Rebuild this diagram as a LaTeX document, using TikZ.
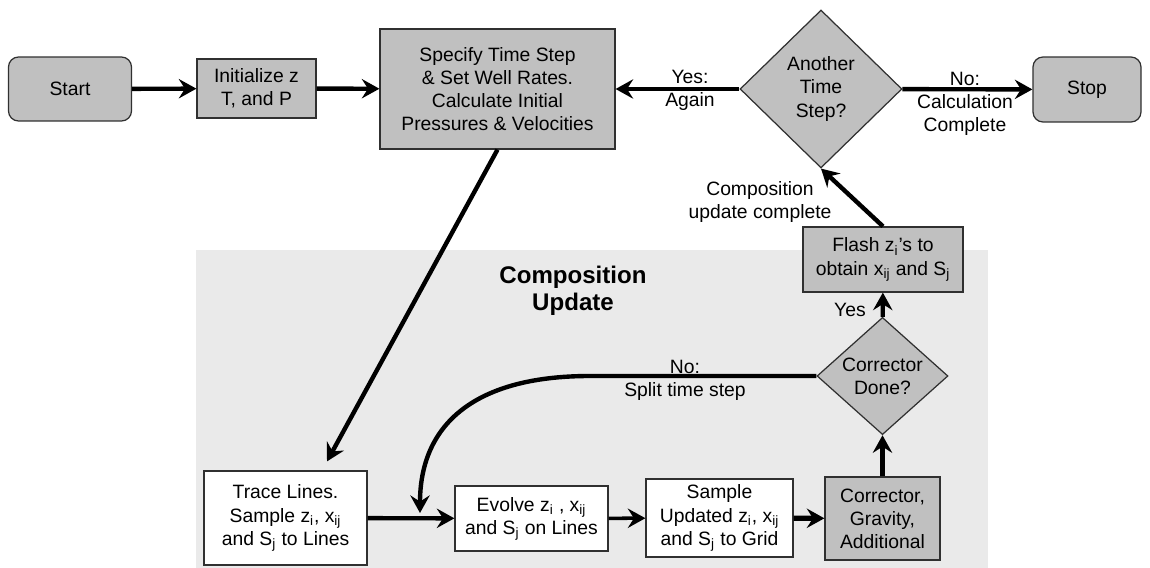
\documentclass[tikz,border=0pt]{standalone}
\usepackage{fontspec}
\setmainfont{Liberation Sans}
\usetikzlibrary{arrows.meta,shapes.geometric,calc}
\definecolor{CFBox}{HTML}{C0C0C0}
\definecolor{CFZone}{HTML}{EAEAEA}
\definecolor{CFEdge}{HTML}{303030}
\newcommand{\tsub}[1]{\textsubscript{#1}}
\tikzset{
  procbox/.style={draw=CFEdge,line width=0.7pt,fill=CFBox,align=center,inner sep=2pt},
  whitebox/.style={procbox,fill=white},
  termbox/.style={procbox,rounded corners=0.2cm},
  decbox/.style={procbox,diamond,inner sep=0pt},
  flow/.style={line width=2.5pt,-{Stealth[length=10pt,width=11pt,inset=3.5pt]}},
  flowlabel/.style={align=center,inner sep=0pt}
}

\begin{document}
\begin{tikzpicture}[x=0.02cm,y=0.02cm,font=\fontsize{11}{13.1}\selectfont]
\path[use as bounding box] (0,0) rectangle (1150,568);
% composition update zone
\fill[CFZone] (196,0) rectangle (988,318);
\node[flowlabel,font=\fontsize{13.7}{15.6}\selectfont\bfseries] (zonetitle) at (573,277) {Composition\\Update};

% top row
\node[termbox,minimum width=2.46cm,minimum height=1.28cm] (start) at (70,479) {Start};
\node[procbox,minimum width=2.38cm,minimum height=1.18cm] (init) at (256.5,479.5) {Initialize z\\T, and P};
\node[procbox,minimum width=4.70cm,minimum height=2.40cm] (spec) at (497.5,479) {Specify Time Step\\\& Set Well Rates.\\Calculate Initial\\Pressures \& Velocities};
\node[decbox,minimum width=3.24cm,minimum height=3.16cm] (another) at (821,479) {Another\\Time\\Step?};
\node[termbox,minimum width=2.16cm,minimum height=1.30cm] (stop) at (1087,478.5) {Stop};

% right column
\node[procbox,minimum width=3.20cm,minimum height=1.30cm] (flash) at (883,308.5) {Flash z\tsub{i}’s to\\obtain x\tsub{ij} and S\tsub{j}};
\node[decbox,minimum width=2.62cm,minimum height=2.32cm] (corrdone) at (882.5,192) {Corrector\\Done?};

% bottom row
\node[whitebox,minimum width=3.26cm,minimum height=1.88cm] (trace) at (285.5,50) {Trace Lines.\\Sample z\tsub{i}, x\tsub{ij}\\and S\tsub{j} to Lines};
\node[whitebox,minimum width=3.06cm,minimum height=1.30cm] (evolve) at (531.5,49.5) {Evolve z\tsub{i} , x\tsub{ij}\\and S\tsub{j} on Lines};
\node[whitebox,minimum width=2.94cm,minimum height=1.56cm] (sample) at (719.5,50) {Sample\\Updated z\tsub{i}, x\tsub{ij}\\and S\tsub{j} to Grid};
\node[procbox,minimum width=2.30cm,minimum height=1.66cm] (corrector) at (882.5,49.5) {Corrector,\\Gravity,\\Additional};
\coordinate (merge) at (420,55);

% connectors
\draw[flow] (start) -- (init);
\draw[flow] (init) -- (spec);
\draw[flow] (another) -- (spec);
\draw[flow] (another) -- (stop);
\draw[flow] (spec.south) -- ($(trace.north)+(41.5,9)$);
\draw[flow] (trace) -- (evolve);
\draw[flow,line width=2pt] (evolve) -- (sample);
\draw[flow,line width=3pt] (sample) -- (corrector);
\draw[flow] (corrector) -- (corrdone);
\draw[flow] (corrdone) -- (flash);
\draw[flow] (flash.north) -- (another.south);
\draw[flow] (corrdone.west) -- (590,192) .. controls (470,192) and (420,140) .. (merge);

% labels
\node[flowlabel] (yesagain) at (690,478) {Yes:\\Again};
\node[flowlabel] (nocalc) at (965,464) {No:\\Calculation\\Complete};
\node[flowlabel] (compdone) at (760,366) {Composition\\update complete};
\node[flowlabel] (nosplit) at (685,188) {No:\\Split time step};
\node[flowlabel] (yesflash) at (850,258) {Yes};
\end{tikzpicture}
\end{document}
